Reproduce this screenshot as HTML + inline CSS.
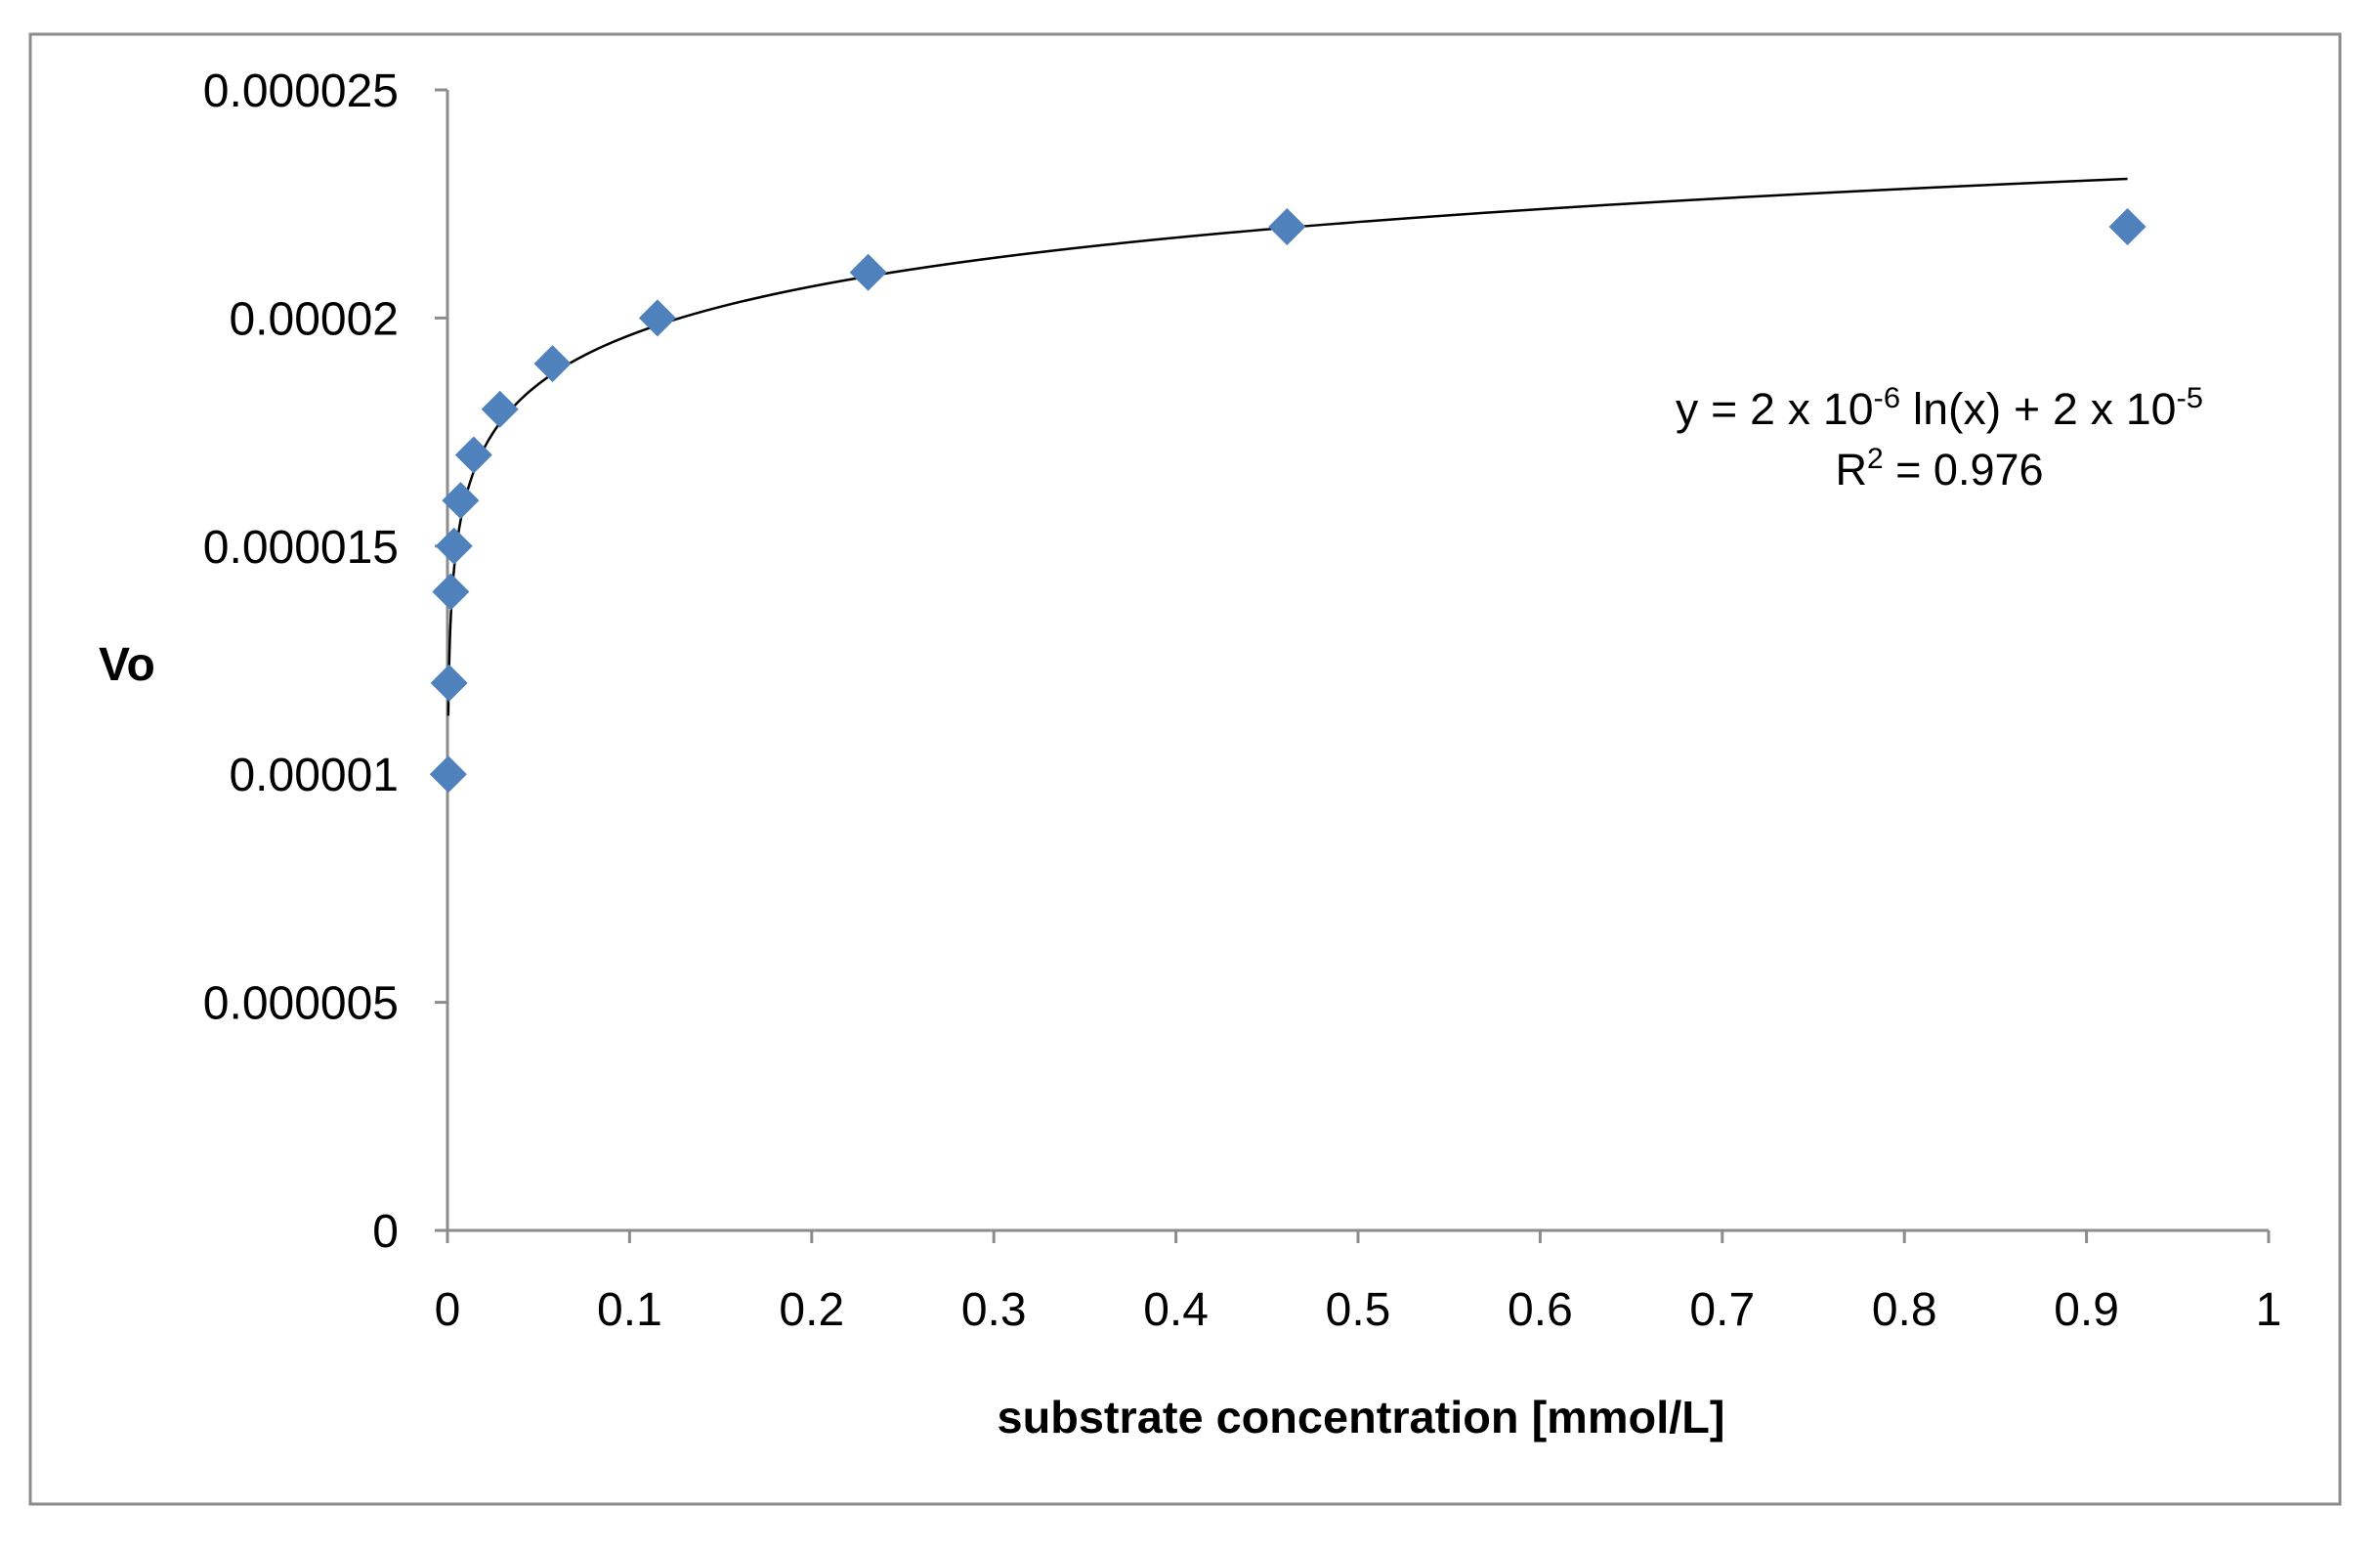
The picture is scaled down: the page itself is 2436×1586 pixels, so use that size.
<!DOCTYPE html>
<html><head><meta charset="utf-8"><style>
html,body{margin:0;padding:0;background:#fff;}
svg{display:block;font-family:"Liberation Sans",sans-serif;}
</style></head><body>
<svg id="chart" width="2436" height="1586" viewBox="0 0 2436 1586">
<rect x="31" y="35" width="2364" height="1504" fill="#fff" stroke="#8c8c8c" stroke-width="3"/>
<g id="axes"></g>
<g id="trend"></g>
<g id="points"></g>
<text x="101" y="696" font-size="48" font-weight="bold">Vo</text>
<text x="1393" y="1466" font-size="46" font-weight="bold" text-anchor="middle" textLength="745" lengthAdjust="spacingAndGlyphs">substrate concentration [mmol/L]</text>
<text x="1715" y="434" font-size="45" textLength="540" lengthAdjust="spacingAndGlyphs">y = 2 x 10<tspan dy="-17" font-size="30">-6</tspan><tspan dy="17"> ln(x) + 2 x 10</tspan><tspan dy="-17" font-size="30">-5</tspan></text>
<text x="1985" y="496" font-size="45" text-anchor="middle">R<tspan dy="-17" font-size="30">2</tspan><tspan dy="17"> = 0.976</tspan></text>
</svg>
<script>
const xValues = [0.00045, 0.0009, 0.0018, 0.0036, 0.0072, 0.0144, 0.0288, 0.0577, 0.1153, 0.231, 0.461, 0.9225];
const yValues = [0.00001, 0.000012, 0.000014, 0.000015, 0.000016, 0.000017, 0.000018, 0.000019, 0.00002, 0.000021, 0.000022, 0.000022];
const xTicks = [0, 0.1, 0.2, 0.3, 0.4, 0.5, 0.6, 0.7, 0.8, 0.9, 1];
const xTickLabels = ["0","0.1","0.2","0.3","0.4","0.5","0.6","0.7","0.8","0.9","1"];
const yTicks = [0, 0.000005, 0.00001, 0.000015, 0.00002, 0.000025];
const yTickLabels = ["0","0.000005","0.00001","0.000015","0.00002","0.000025"];

const NS = "http://www.w3.org/2000/svg";
const X0 = 458, X1 = 2322, Y0 = 1259, Y1 = 92;
const sx = v => X0 + (v - 0) / (1 - 0) * (X1 - X0);
const sy = v => Y0 - (v - 0) / (0.000025 - 0) * (Y0 - Y1);
function mk(tag, attrs, parent){const e=document.createElementNS(NS,tag);for(const k in attrs)e.setAttribute(k,attrs[k]);parent.appendChild(e);return e;}

const axes = document.getElementById('axes');
let a = mk('line',{x1:X0,y1:Y0,x2:X1,y2:Y0,stroke:'#8c8c8c','stroke-width':3},axes);


a = mk('line',{x1:X0,y1:Y0,x2:X0,y2:Y1,stroke:'#8c8c8c','stroke-width':3},axes);


xTicks.forEach((t,i)=>{
  const x=sx(t);
  const tk=mk('line',{x1:x,y1:Y0,x2:x,y2:Y0+13,stroke:'#8c8c8c','stroke-width':3},axes);
  
  
  const lb=mk('text',{x:x,y:1356,'font-size':48,'text-anchor':'middle'},axes);
  lb.textContent=xTickLabels[i];
  
  
});
yTicks.forEach((t,i)=>{
  const y=sy(t);
  const tk=mk('line',{x1:X0-13,y1:y,x2:X0,y2:y,stroke:'#8c8c8c','stroke-width':3},axes);
  
  
  const lb=mk('text',{x:408,y:y+17,'font-size':48,'text-anchor':'end'},axes);
  lb.textContent=yTickLabels[i];
  
  
});

const n=xValues.length;
const lx=xValues.map(Math.log);
const mx=lx.reduce((s,v)=>s+v,0)/n, my=yValues.reduce((s,v)=>s+v,0)/n;
let sxy=0,sxx=0;for(let i=0;i<n;i++){sxy+=(lx[i]-mx)*(yValues[i]-my);sxx+=(lx[i]-mx)**2;}
const slope=sxy/sxx, icpt=my-slope*mx;
const xmin=Math.min(...xValues), xmax=Math.max(...xValues);
let d='';
for(let k=0;k<=400;k++){
  const xv=Math.exp(Math.log(xmin)+(Math.log(xmax)-Math.log(xmin))*k/400);
  const yv=icpt+slope*Math.log(xv);
  d+=(k?'L':'M')+sx(xv).toFixed(2)+','+sy(yv).toFixed(2);
}
const tl=mk('path',{d:d,fill:'none',stroke:'#000','stroke-width':2.5},document.getElementById('trend'));



const pts=document.getElementById('points');
xValues.forEach((xv,i)=>{
  const cx=sx(xv), cy=sy(yValues[i]), r=19;
  const p=mk('polygon',{points:`${cx},${cy-r} ${cx+r},${cy} ${cx},${cy+r} ${cx-r},${cy}`,fill:'#4f81bd'},pts);
  
  
});
</script>
</body></html>
